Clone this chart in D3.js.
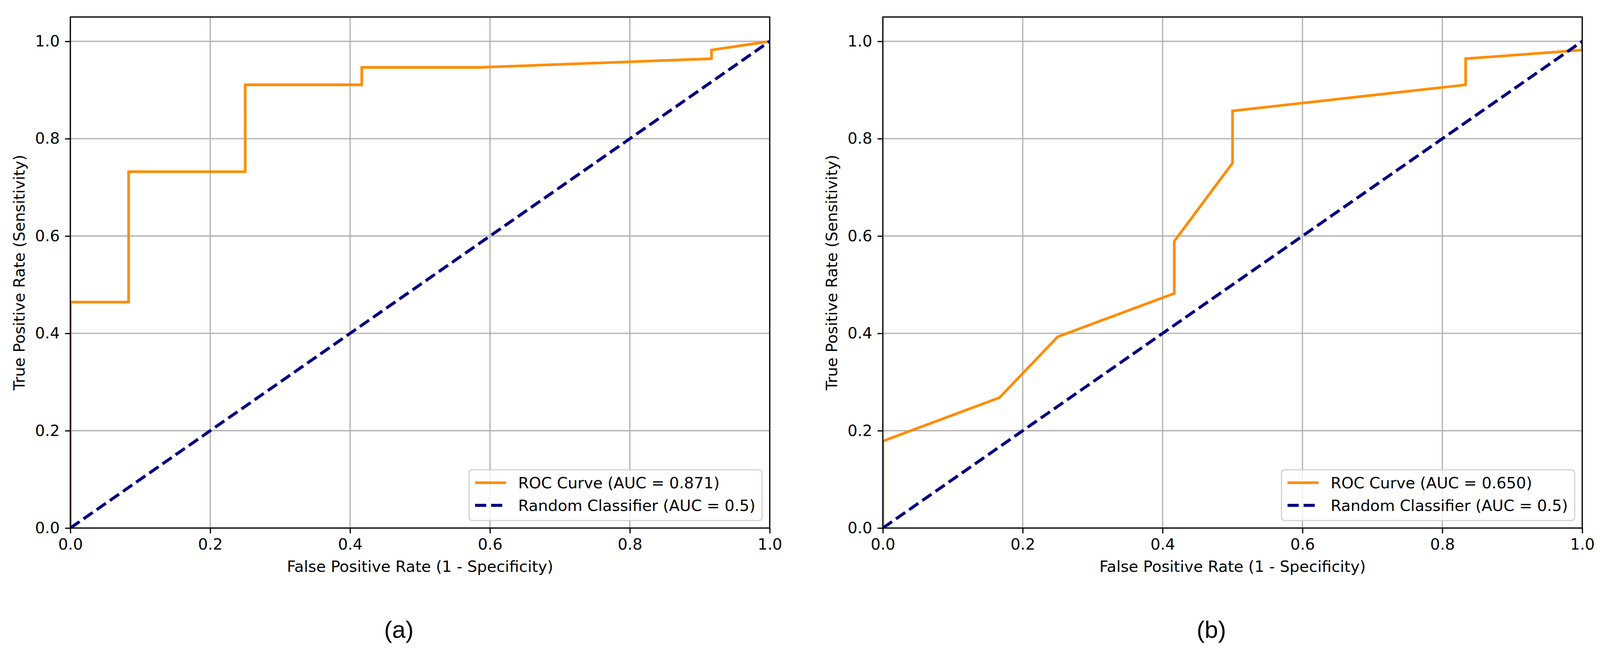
<!DOCTYPE html>
<html>
<head>
<meta charset="utf-8">
<script src="https://cdn.jsdelivr.net/npm/d3@7"></script>
<style>
    html, body { margin: 0; padding: 0; background: #fff; overflow: hidden; }
    svg { display: block; }
    text { font-family: "DejaVu Sans", sans-serif; fill: #000; }
</style>
</head>
<body>
<div id="chart"></div>
<script>
// tick values shared by both panels
const ticks = [0.0, 0.2, 0.4, 0.6, 0.8, 1.0];

// panel (a) ROC points
const fprA = [0.0, 0.0, 0.0833, 0.0833, 0.25, 0.25, 0.4167, 0.4167, 0.5833, 0.9167, 0.9167, 1.0];
const tprA = [0.0, 0.4643, 0.4643, 0.7321, 0.7321, 0.9107, 0.9107, 0.9464, 0.9464, 0.9643, 0.9821, 1.0];

// panel (b) ROC points
const fprB = [0.0, 0.0, 0.1667, 0.25, 0.4167, 0.4167, 0.5, 0.5, 0.8333, 0.8333, 1.0, 1.0];
const tprB = [0.0, 0.1786, 0.2679, 0.3929, 0.4821, 0.5893, 0.75, 0.8571, 0.9107, 0.9643, 0.9821, 1.0];

// random classifier diagonal
const chanceX = [0, 1];
const chanceY = [0, 1];

const rocLabels = ["ROC Curve (AUC = 0.871)", "ROC Curve (AUC = 0.650)"];
const chanceLabel = "Random Classifier (AUC = 0.5)";
const panelNames = ["(a)", "(b)"];
const xTitle = "False Positive Rate (1 - Specificity)";
const yTitle = "True Positive Rate (Sensitivity)";

const width = 4230;
const height = 1719;
const fontSize = 41;

// viewBox keeps the whole figure inside whatever viewport we get
const svg = d3.select("#chart")
    .append("svg")
    .attr("width", window.innerWidth || width)
    .attr("height", window.innerHeight || height)
    .attr("viewBox", "0 0 " + width + " " + height)
    .attr("preserveAspectRatio", "xMinYMin meet");

const panels = [
    { left: 186, fpr: fprA, tpr: tprA, label: rocLabels[0], name: panelNames[0] },
    { left: 2334, fpr: fprB, tpr: tprB, label: rocLabels[1], name: panelNames[1] }
];

const plotW = 1849;
const plotTop = 45;
const plotBottom = 1397;

panels.forEach(function(p, i) {
    const h = plotBottom - plotTop;
    const x = d3.scaleLinear().domain([0, 1]).range([0, plotW]);
    const y = d3.scaleLinear().domain([0, 1.05]).range([h, 0]);

    const g = svg.append("g")
        .attr("transform", "translate(" + p.left + "," + plotTop + ")");

    g.append("clipPath").attr("id", "clip" + i)
        .append("rect").attr("width", plotW).attr("height", h);

    // grid
    g.selectAll(".vgrid").data(ticks).enter().append("line")
        .attr("x1", d => x(d)).attr("x2", d => x(d))
        .attr("y1", 0).attr("y2", h)
        .attr("stroke", "#b0b0b0").attr("stroke-width", 3.2);
    g.selectAll(".hgrid").data(ticks).enter().append("line")
        .attr("x1", 0).attr("x2", plotW)
        .attr("y1", d => y(d)).attr("y2", d => y(d))
        .attr("stroke", "#b0b0b0").attr("stroke-width", 3.2);

    const line = d3.line()
        .x(d => x(d[0]))
        .y(d => y(d[1]));

    const lines = g.append("g").attr("clip-path", "url(#clip" + i + ")");

    lines.append("path")
        .datum(p.fpr.map((v, k) => [v, p.tpr[k]]))
        .attr("d", line)
        .attr("fill", "none")
        .attr("stroke", "#ff8c00")
        .attr("stroke-width", 7)
        .attr("stroke-linejoin", "miter");

    lines.append("path")
        .datum(chanceX.map((v, k) => [v, chanceY[k]]))
        .attr("d", line)
        .attr("fill", "none")
        .attr("stroke", "#000080")
        .attr("stroke-width", 8)
        .attr("stroke-dasharray", "29.6,12.8");

    // axes
    const xAxis = g.append("g")
        .attr("transform", "translate(0," + h + ")")
        .call(d3.axisBottom(x).tickValues(ticks).tickFormat(d3.format(".1f")).tickSize(14).tickPadding(14));
    const yAxis = g.append("g")
        .call(d3.axisLeft(y).tickValues(ticks).tickFormat(d3.format(".1f")).tickSize(14).tickPadding(14));

    [xAxis, yAxis].forEach(function(a) {
        a.select(".domain").remove();
        a.selectAll("line").attr("stroke", "#000").attr("stroke-width", 3.2);
        a.selectAll("text")
            .style("font-family", "'DejaVu Sans', sans-serif")
            .style("font-size", fontSize + "px")
            .attr("fill", "#000");
    });

    // spines
    g.append("rect")
        .attr("width", plotW).attr("height", h)
        .attr("fill", "none")
        .attr("stroke", "#000").attr("stroke-width", 3.2);

    // legend
    const leg = g.append("g");
    const legendBox = leg.append("rect")
        .attr("rx", 8).attr("ry", 8)
        .attr("fill", "#fff").attr("fill-opacity", 0.8)
        .attr("stroke", "#d0d0d0").attr("stroke-width", 3);

    const items = [
        { label: p.label, color: "#ff8c00", dash: null, w: 7 },
        { label: chanceLabel, color: "#000080", dash: "29.6,12.8", w: 8 }
    ];
    let maxW = 0;
    items.forEach(function(it, k) {
        const row = leg.append("g").attr("transform", "translate(0," + (k * 60) + ")");
        row.append("line")
            .attr("x1", 16).attr("x2", 98)
            .attr("stroke", it.color).attr("stroke-width", it.w)
            .attr("stroke-dasharray", it.dash);
        const t = row.append("text")
            .attr("x", 130)
            .attr("dominant-baseline", "central")
            .style("font-size", fontSize + "px")
            .text(it.label);
        maxW = Math.max(maxW, t.node().getComputedTextLength());
    });
    const boxW = 130 + maxW + 18;
    const boxH = 134;
    legendBox.attr("x", 0).attr("y", -34).attr("width", boxW).attr("height", boxH);
    leg.attr("transform", "translate(" + (plotW - 20 - boxW) + "," + (h - 20 - boxH + 34) + ")");

    // axis titles
    g.append("text")
        .attr("x", plotW / 2)
        .attr("y", 1498 - plotTop)
        .attr("text-anchor", "middle")
        .attr("dominant-baseline", "central")
        .style("font-size", fontSize + "px")
        .text(xTitle);

    g.append("text")
        .attr("transform", "translate(" + (-135) + "," + (h / 2) + ") rotate(-90)")
        .attr("text-anchor", "middle")
        .attr("dominant-baseline", "central")
        .style("font-size", fontSize + "px")
        .text(yTitle);

    // panel name
    g.append("text")
        .attr("x", plotW / 2 - 56)
        .attr("y", 1665 - plotTop)
        .attr("text-anchor", "middle")
        .attr("dominant-baseline", "central")
        .style("font-family", "'Liberation Sans', Arial, sans-serif")
        .style("font-size", "64px")
        .text(p.name);
});
</script>
</body>
</html>
